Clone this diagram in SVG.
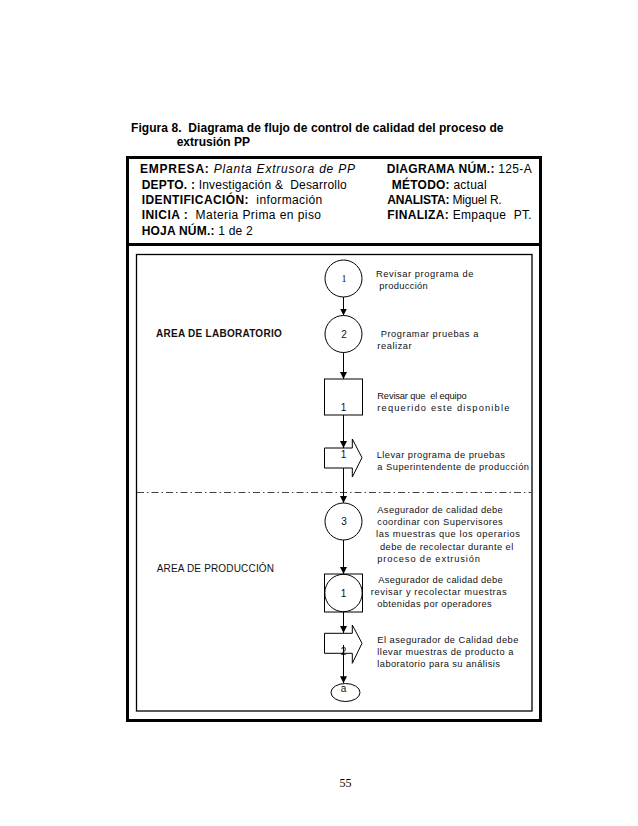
<svg xmlns="http://www.w3.org/2000/svg" width="638" height="826" viewBox="0 0 638 826">
<style>
.h{font-family:"Liberation Sans",Arial,sans-serif;font-size:12px;fill:#000}
.b{font-weight:bold}
.t{font-family:"Liberation Sans",Arial,sans-serif;font-size:9.3px;fill:#111}
.a{font-family:"Liberation Sans",Arial,sans-serif;font-size:10px;fill:#111}
.n{font-family:"Liberation Sans",Arial,sans-serif;font-size:10px;fill:#111;text-anchor:middle}
.s{fill:#fff;stroke:#000;stroke-width:1}
.c{fill:none;stroke:#000;stroke-width:1}
</style>
<defs>
<marker id="ah" markerUnits="userSpaceOnUse" markerWidth="7" markerHeight="7" refX="7" refY="3.5" orient="auto">
<path d="M0,0 L7,3.5 L0,7 Z" fill="#000"/>
</marker>
</defs>
<rect width="638" height="826" fill="#fff"/>
<g id="title">
<text class="h b" x="131" y="131.5" textLength="372.5" lengthAdjust="spacing">Figura 8.&#160; Diagrama de flujo de control de calidad del proceso de</text>
<text class="h b" x="176.7" y="145.5">extrusión PP</text>
</g>
<g id="frame">
<rect x="127.5" y="157.5" width="413" height="563" fill="none" stroke="#000" stroke-width="3"/>
<line x1="127.5" y1="244.5" x2="540.5" y2="244.5" stroke="#000" stroke-width="3"/>
<rect x="136.5" y="254.5" width="395.5" height="456.5" fill="none" stroke="#000" stroke-width="1.3"/>
<line x1="137" y1="492.5" x2="531.5" y2="492.5" stroke="#444" stroke-width="1" stroke-dasharray="7 3 1.5 3"/>
</g>
<g id="header">
<text class="h" x="140" y="172.5" textLength="215" lengthAdjust="spacing"><tspan class="b">EMPRESA:</tspan><tspan font-style="italic"> Planta Extrusora de PP</tspan></text>
<text class="h" x="141.7" y="189.3" textLength="205" lengthAdjust="spacing"><tspan class="b">DEPTO. :</tspan> Investigación &amp;&#160; Desarrollo</text>
<text class="h" x="141.7" y="204.3" textLength="180.6" lengthAdjust="spacing"><tspan class="b">IDENTIFICACIÓN:</tspan>&#160; información</text>
<text class="h" x="141.7" y="219.3" textLength="179.3" lengthAdjust="spacing"><tspan class="b">INICIA :</tspan>&#160; Materia Prima en piso</text>
<text class="h" x="141.7" y="235" textLength="111" lengthAdjust="spacing"><tspan class="b">HOJA NÚM.:</tspan> 1 de 2</text>
<text class="h" x="386.7" y="172.5" textLength="145" lengthAdjust="spacing"><tspan class="b">DIAGRAMA NÚM.:</tspan> 125-A</text>
<text class="h" x="391.7" y="189.3" textLength="95" lengthAdjust="spacing"><tspan class="b">MÉTODO:</tspan> actual</text>
<text class="h" x="387.3" y="204.3" textLength="114.4" lengthAdjust="spacing"><tspan class="b">ANALISTA:</tspan> Miguel R.</text>
<text class="h" x="387.3" y="219.3" textLength="144.4" lengthAdjust="spacing"><tspan class="b">FINALIZA:</tspan> Empaque&#160; PT.</text>
</g>
<g id="areas">
<text class="a b" x="156" y="337" textLength="125.7" lengthAdjust="spacing">AREA DE LABORATORIO</text>
<text class="a" x="156.7" y="571.7" textLength="117.3" lengthAdjust="spacing">AREA DE PRODUCCIÓN</text>
</g>
<g id="connectors">
<line class="c" x1="343.5" y1="297" x2="343.5" y2="315.5" marker-end="url(#ah)"/>
<line class="c" x1="343.5" y1="352.5" x2="343.5" y2="379" marker-end="url(#ah)"/>
<line class="c" x1="343.5" y1="415" x2="343.5" y2="448" marker-end="url(#ah)"/>
<line class="c" x1="343.5" y1="468" x2="343.5" y2="503" marker-end="url(#ah)"/>
<line class="c" x1="343.5" y1="540" x2="343.5" y2="574" marker-end="url(#ah)"/>
<line class="c" x1="343.5" y1="612" x2="343.5" y2="633" marker-end="url(#ah)"/>
</g>
<g id="op1">
<circle class="s" cx="343.5" cy="278.5" r="18.5"/>
<text x="344" y="282" font-family="Liberation Serif,serif" font-size="10" text-anchor="middle" fill="#111">1</text>
<text class="t" x="376" y="277" textLength="97.3" lengthAdjust="spacing">Revisar programa de</text>
<text class="t" x="379.3" y="289" textLength="48.4" lengthAdjust="spacing">producción</text>
</g>
<g id="op2">
<circle class="s" cx="343.5" cy="334" r="18.5"/>
<text class="n" x="344" y="337.5">2</text>
<text class="t" x="380.7" y="337" textLength="97.6" lengthAdjust="spacing">Programar pruebas a</text>
<text class="t" x="377.3" y="349.3" textLength="34.4" lengthAdjust="spacing">realizar</text>
</g>
<g id="insp1">
<rect class="s" x="324.5" y="379" width="38" height="36"/>
<text class="n" x="343.5" y="411">1</text>
<text class="t" x="377.3" y="399.3" textLength="89.4" lengthAdjust="spacing">Revisar que&#160; el equipo</text>
<text class="t" x="377.3" y="410.7" textLength="132" lengthAdjust="spacing">requerido este disponible</text>
</g>
<g id="trans1">
<path class="s" d="M324.5,448 L352.3,448 L352.3,439 L362,457.7 L352.3,477 L352.3,468 L324.5,468 Z"/>
<text class="n" x="343.5" y="457.5">1</text>
<text class="t" x="376.7" y="458.3" textLength="128.3" lengthAdjust="spacing">Llevar programa de pruebas</text>
<text class="t" x="377.3" y="470.3" textLength="151.7" lengthAdjust="spacing">a Superintendente de producción</text>
</g>
<g id="op3">
<circle class="s" cx="343.5" cy="521.5" r="18.5"/>
<text class="n" x="344" y="525">3</text>
<text class="t" x="377.3" y="512.7" textLength="125.4" lengthAdjust="spacing">Asegurador de calidad debe</text>
<text class="t" x="377.3" y="525" textLength="125.4" lengthAdjust="spacing">coordinar con Supervisores</text>
<text class="t" x="376" y="537.3" textLength="144" lengthAdjust="spacing">las muestras que los operarios</text>
<text class="t" x="380" y="550" textLength="133.3" lengthAdjust="spacing">debe de recolectar durante el</text>
<text class="t" x="377.3" y="561.7" textLength="102.7" lengthAdjust="spacing">proceso de extrusión</text>
</g>
<g id="combo1">
<rect class="s" x="324.5" y="574" width="38" height="38"/>
<circle class="c" cx="343.5" cy="593" r="18.7"/>
<text class="n" x="343.5" y="596.5">1</text>
<text class="t" x="378.3" y="583.3" textLength="124.4" lengthAdjust="spacing">Asegurador de calidad debe</text>
<text class="t" x="370.7" y="595" textLength="136" lengthAdjust="spacing">revisar y recolectar muestras</text>
<text class="t" x="377.3" y="606.7" textLength="114.4" lengthAdjust="spacing">obtenidas por operadores</text>
</g>
<g id="trans2">
<path class="s" d="M324.5,633.3 L352.3,633.3 L352.3,625 L362,643.3 L352.3,663.3 L352.3,653.3 L324.5,653.3 Z"/>
<text class="n" x="343.5" y="655">2</text>
<text class="t" x="377.3" y="643.3" textLength="141" lengthAdjust="spacing">El asegurador de Calidad debe</text>
<text class="t" x="377.3" y="655" textLength="136" lengthAdjust="spacing">llevar muestras de producto a</text>
<text class="t" x="377.3" y="666.7" textLength="122.7" lengthAdjust="spacing">laboratorio para su análisis</text>
</g>
<g id="connector-a">
<line class="c" x1="343.5" y1="645" x2="343.5" y2="683.3" marker-end="url(#ah)"/>
</g>
<g id="endA">
<ellipse class="s" cx="345.5" cy="692.5" rx="14.5" ry="9"/>
<text class="n" x="343.5" y="691.5">a</text>
</g>
<g id="page">
<text x="345.5" y="786.5" font-family="Liberation Serif,serif" font-size="12" text-anchor="middle" fill="#000">55</text>
</g>
</svg>
